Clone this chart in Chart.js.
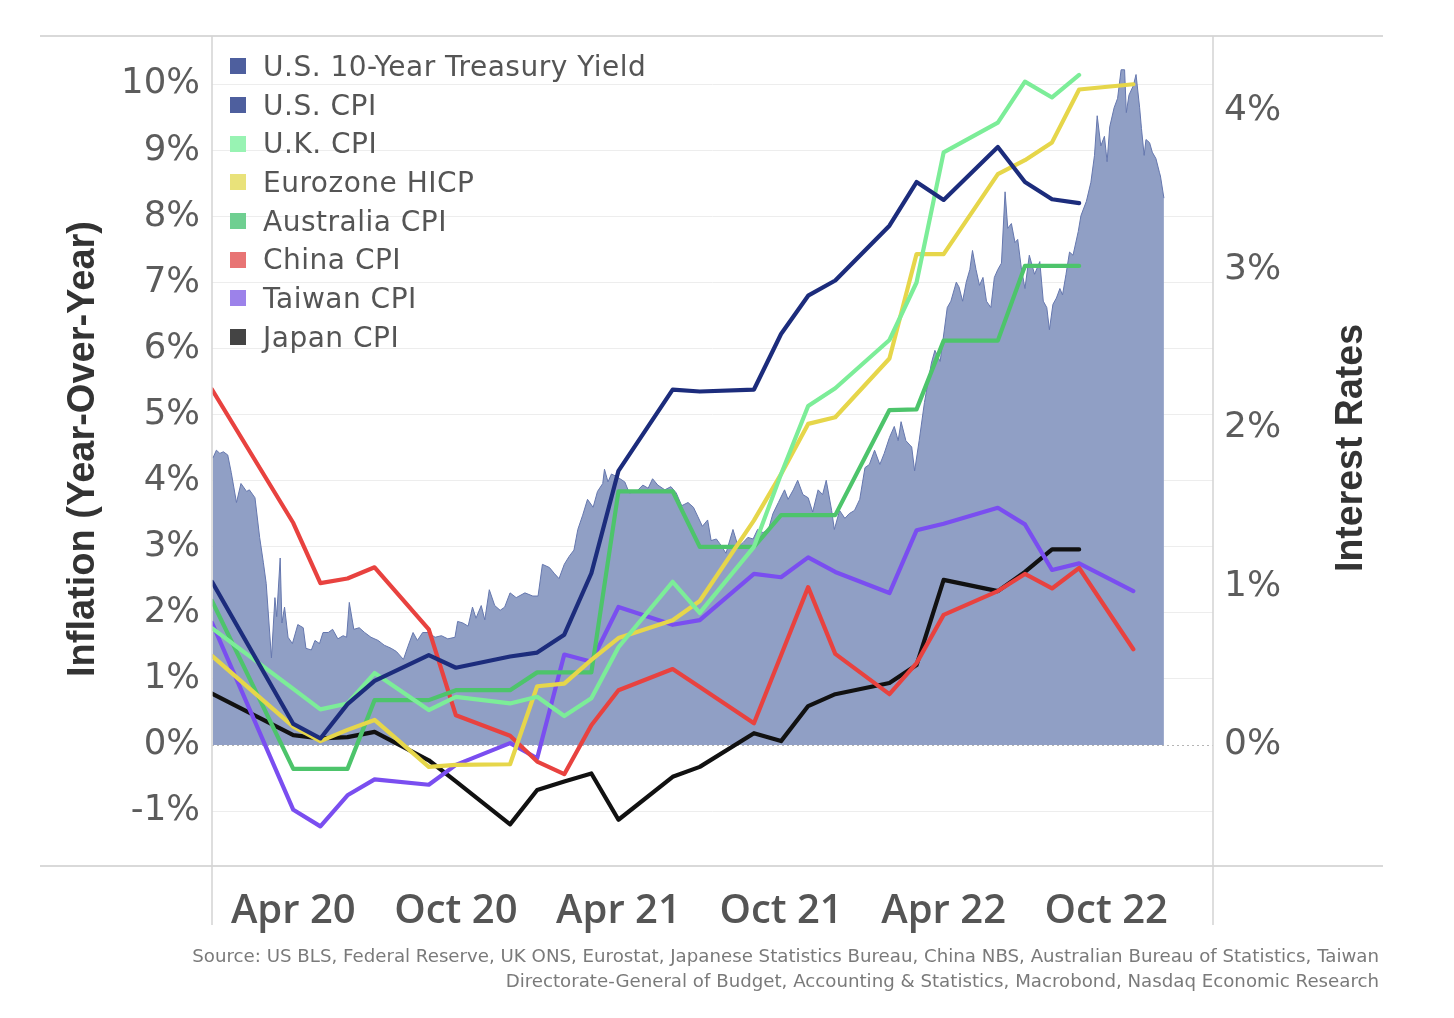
<!DOCTYPE html>
<html><head><meta charset="utf-8">
<script src="https://cdn.jsdelivr.net/npm/chart.js@4.4.1/dist/chart.umd.min.js"></script>
<style>
html,body{margin:0;padding:0;background:#fff;width:1454px;height:1018px;overflow:hidden;}
#wrap{position:relative;width:1454px;height:1018px;}
#c{position:absolute;left:0;top:0;}
#legend{position:absolute;left:230px;top:47px;font-family:"DejaVu Sans";font-size:28px;letter-spacing:0.5px;color:#555;}
.item{display:flex;align-items:center;height:38.7px;white-space:nowrap;}
.sw{width:16px;height:16px;margin-right:17px;flex:none;}
#source{position:absolute;right:75px;top:943px;text-align:right;font-family:"DejaVu Sans";font-size:18.2px;color:#7a7a7a;line-height:25px;white-space:nowrap;}
</style></head>
<body><div id="wrap"><canvas id="c" width="1454" height="1018"></canvas><div id="legend"></div>
<div id="source">Source: US BLS, Federal Reserve, UK ONS, Eurostat, Japanese Statistics Bureau, China NBS, Australian Bureau of Statistics, Taiwan<br>Directorate-General of Budget, Accounting &amp; Statistics, Macrobond, Nasdaq Economic Research</div></div>
<script>
// ---------- DATA ----------
const cpiMonths = ["2020-01","2020-04","2020-05","2020-06","2020-07","2020-09","2020-10","2020-12","2021-01","2021-02","2021-03","2021-04","2021-06","2021-07","2021-09","2021-10","2021-11","2021-12","2022-02","2022-03","2022-04","2022-06","2022-07","2022-08","2022-09","2022-11"];
const usCpi     = [2.47,0.32,0.10,0.62,0.97,1.36,1.17,1.34,1.40,1.67,2.60,4.15,5.38,5.35,5.38,6.22,6.80,7.03,7.86,8.52,8.25,9.05,8.52,8.26,8.20,null];
const ukCpi     = [1.77,0.85,0.54,0.63,1.09,0.53,0.73,0.63,0.73,0.44,0.71,1.48,2.47,2.00,3.00,4.10,5.13,5.40,6.13,7.00,8.97,9.42,10.04,9.80,10.14,null];
const euroHicp  = [1.35,0.28,0.06,0.23,0.38,-0.33,-0.30,-0.29,0.89,0.93,1.29,1.62,1.89,2.18,3.40,4.10,4.86,4.96,5.85,7.43,7.43,8.64,8.85,9.12,9.92,10.00];
const ausCpi    = [2.18,-0.36,-0.36,-0.36,0.68,0.68,0.83,0.83,1.10,1.10,1.10,3.84,3.84,3.00,3.00,3.48,3.48,3.48,5.07,5.08,6.12,6.12,7.25,7.25,7.25,null];
const chinaCpi  = [5.38,3.36,2.45,2.52,2.69,1.75,0.45,0.14,-0.25,-0.44,0.30,0.83,1.15,0.88,0.33,1.36,2.39,1.38,0.77,1.24,1.97,2.33,2.59,2.37,2.68,1.45];
const taiwanCpi = [1.85,-0.98,-1.23,-0.76,-0.52,-0.60,-0.30,0.03,-0.20,1.37,1.26,2.09,1.82,1.89,2.59,2.54,2.84,2.62,2.30,3.25,3.35,3.59,3.34,2.65,2.75,2.33];
const japanCpi  = [0.78,0.15,0.10,0.12,0.20,-0.23,-0.55,-1.20,-0.68,-0.55,-0.43,-1.13,-0.48,-0.33,0.18,0.06,0.59,0.77,0.94,1.21,2.50,2.33,2.62,2.96,2.96,null];

const yieldDates = ["2020-01-02","2020-01-06","2020-01-10","2020-01-14","2020-01-19","2020-01-23","2020-01-29","2020-02-03","2020-02-09","2020-02-12","2020-02-18","2020-02-23","2020-02-27","2020-03-01","2020-03-07","2020-03-11","2020-03-13","2020-03-17","2020-03-19","2020-03-22","2020-03-26","2020-03-31","2020-04-06","2020-04-12","2020-04-15","2020-04-21","2020-04-25","2020-04-30","2020-05-04","2020-05-10","2020-05-15","2020-05-21","2020-05-27","2020-05-31","2020-06-03","2020-06-08","2020-06-14","2020-06-20","2020-06-27","2020-07-05","2020-07-12","2020-07-20","2020-07-26","2020-08-03","2020-08-08","2020-08-14","2020-08-19","2020-08-25","2020-08-31","2020-09-08","2020-09-15","2020-09-22","2020-09-30","2020-10-03","2020-10-09","2020-10-15","2020-10-20","2020-10-24","2020-10-30","2020-11-03","2020-11-08","2020-11-14","2020-11-20","2020-11-25","2020-12-01","2020-12-08","2020-12-18","2020-12-27","2021-01-02","2021-01-07","2021-01-15","2021-01-21","2021-01-26","2021-02-01","2021-02-06","2021-02-11","2021-02-15","2021-02-20","2021-02-25","2021-03-03","2021-03-08","2021-03-14","2021-03-16","2021-03-20","2021-03-24","2021-03-31","2021-04-08","2021-04-13","2021-04-21","2021-04-28","2021-05-04","2021-05-09","2021-05-15","2021-05-23","2021-05-30","2021-06-05","2021-06-11","2021-06-18","2021-06-24","2021-06-29","2021-07-04","2021-07-10","2021-07-14","2021-07-20","2021-07-24","2021-07-31","2021-08-08","2021-08-14","2021-08-20","2021-08-25","2021-08-31","2021-09-05","2021-09-11","2021-09-17","2021-09-22","2021-09-28","2021-10-05","2021-10-09","2021-10-15","2021-10-20","2021-10-26","2021-11-01","2021-11-06","2021-11-12","2021-11-17","2021-11-21","2021-11-27","2021-11-30","2021-12-06","2021-12-12","2021-12-17","2021-12-23","2021-12-29","2022-01-04","2022-01-09","2022-01-15","2022-01-21","2022-01-26","2022-02-01","2022-02-06","2022-02-10","2022-02-13","2022-02-18","2022-02-24","2022-02-27","2022-03-04","2022-03-10","2022-03-18","2022-03-22","2022-03-28","2022-04-05","2022-04-09","2022-04-15","2022-04-18","2022-04-22","2022-04-26","2022-04-30","2022-05-03","2022-05-07","2022-05-11","2022-05-15","2022-05-19","2022-05-24","2022-05-28","2022-06-01","2022-06-05","2022-06-09","2022-06-12","2022-06-16","2022-06-20","2022-06-23","2022-06-27","2022-07-01","2022-07-06","2022-07-12","2022-07-18","2022-07-22","2022-07-26","2022-07-29","2022-08-02","2022-08-06","2022-08-10","2022-08-13","2022-08-17","2022-08-21","2022-08-25","2022-08-31","2022-09-03","2022-09-09","2022-09-14","2022-09-18","2022-09-21","2022-09-25","2022-09-29","2022-10-02","2022-10-05","2022-10-10","2022-10-14","2022-10-18","2022-10-22","2022-10-24","2022-10-27","2022-11-01","2022-11-04","2022-11-08","2022-11-10","2022-11-13","2022-11-15","2022-11-19","2022-11-22","2022-11-26","2022-11-30","2022-12-01","2022-12-05"];
const yieldValues = [1.81,1.86,1.84,1.85,1.83,1.72,1.53,1.65,1.60,1.61,1.56,1.31,1.15,1.02,0.55,0.93,0.81,1.18,0.77,0.87,0.68,0.64,0.76,0.74,0.61,0.60,0.66,0.64,0.71,0.71,0.73,0.67,0.69,0.68,0.90,0.73,0.74,0.71,0.68,0.66,0.63,0.61,0.59,0.54,0.62,0.71,0.66,0.71,0.71,0.68,0.69,0.67,0.68,0.78,0.77,0.75,0.87,0.80,0.88,0.79,0.98,0.88,0.85,0.87,0.96,0.93,0.96,0.94,0.94,1.14,1.12,1.08,1.05,1.14,1.19,1.23,1.36,1.45,1.55,1.50,1.60,1.65,1.74,1.66,1.71,1.69,1.66,1.59,1.60,1.64,1.62,1.68,1.64,1.61,1.63,1.59,1.51,1.53,1.50,1.44,1.38,1.42,1.29,1.30,1.27,1.21,1.36,1.25,1.28,1.31,1.30,1.36,1.34,1.36,1.46,1.53,1.61,1.55,1.61,1.67,1.58,1.56,1.47,1.61,1.58,1.67,1.48,1.36,1.48,1.43,1.46,1.48,1.55,1.75,1.77,1.86,1.77,1.84,1.94,2.01,1.92,2.04,1.92,1.88,1.73,1.92,2.16,2.41,2.49,2.42,2.76,2.80,2.92,2.89,2.80,2.92,3.00,3.12,3.00,2.90,2.95,2.80,2.76,2.95,3.00,3.04,3.49,3.26,3.29,3.17,3.19,3.01,2.88,3.09,2.97,3.05,2.80,2.76,2.62,2.78,2.82,2.88,2.84,2.97,3.11,3.09,3.24,3.34,3.43,3.55,3.72,3.97,3.78,3.84,3.68,3.90,4.02,4.08,4.26,4.26,3.99,4.10,4.16,4.23,4.02,3.89,3.72,3.82,3.80,3.74,3.70,3.61,3.59,3.45];

const xTickMonths = ["2020-04","2020-10","2021-04","2021-10","2022-04","2022-10"];
const xTickLabels = ["Apr 20","Oct 20","Apr 21","Oct 21","Apr 22","Oct 22"];
const leftTicks  = [-1,0,1,2,3,4,5,6,7,8,9,10];
const rightTicks = [0,1,2,3,4];

// ---------- helpers ----------
function monthIndex(s){
  const p = s.split('-').map(Number);
  const y = p[0], m = p[1], d = p[2] || 1;
  const dim = new Date(y, m, 0).getDate();
  return (y-2020)*12 + (m-1) + (d-1)/dim;
}
function cpiPoints(vals){
  const out = [];
  vals.forEach((v,i)=>{ if(v!==null) out.push({x:monthIndex(cpiMonths[i]), y:v}); });
  return out;
}
const yieldPts = yieldDates.map((d,i)=>({x:monthIndex(d), y:yieldValues[i]}));

const series = [
  {label:'U.S. CPI', data:usCpi, color:'#1c2c7c', sw:'#4e5f9e'},
  {label:'U.K. CPI', data:ukCpi, color:'#7ced98', sw:'#98f3b3'},
  {label:'Eurozone HICP', data:euroHicp, color:'#e6d64a', sw:'#e9e27a'},
  {label:'Australia CPI', data:ausCpi, color:'#4dc46b', sw:'#6fcf91'},
  {label:'China CPI', data:chinaCpi, color:'#e8423f', sw:'#e87474'},
  {label:'Taiwan CPI', data:taiwanCpi, color:'#7a4ef0', sw:'#9c82ea'},
  {label:'Japan CPI', data:japanCpi, color:'#111111', sw:'#444444'}
];

const datasets = series.map((s,i)=>({
  label:s.label, data:cpiPoints(s.data), yAxisID:'y', borderColor:s.color, backgroundColor:s.color,
  borderWidth:4.2, pointRadius:0, tension:0, fill:false, order:i+1,
  borderJoinStyle:'round', borderCapStyle:'round'
}));
datasets.push({
  label:'U.S. 10-Year Treasury Yield', data:yieldPts, yAxisID:'y2',
  borderColor:'#6577ae', borderWidth:1, backgroundColor:'#909fc5', fill:'origin',
  pointRadius:0, tension:0, order:100
});

// legend
const legendItems = [{label:'U.S. 10-Year Treasury Yield', sw:'#4e5f9e'}].concat(series.map(s=>({label:s.label, sw:s.sw})));
const lg = document.getElementById('legend');
legendItems.forEach(it=>{
  const d = document.createElement('div'); d.className='item';
  d.innerHTML = '<span class="sw" style="background:'+it.sw+'"></span><span>'+it.label+'</span>';
  lg.appendChild(d);
});

function drawRotTitle(ctx, text, baseX, cy, len){
  ctx.save();
  ctx.font = 'bold 39px "Liberation Sans", Arial, sans-serif';
  const w = ctx.measureText(text).width;
  ctx.translate(baseX, cy); ctx.rotate(-Math.PI/2); ctx.scale(len/w, 1);
  ctx.textAlign='center'; ctx.textBaseline='alphabetic'; ctx.fillStyle='#333';
  ctx.fillText(text, 0, 0);
  ctx.restore();
}

const deco = {
  id:'deco',
  beforeDatasetsDraw(chart){
    const {ctx, chartArea:a, scales} = chart;
    const y0 = Math.round(scales.y.getPixelForValue(0))+0.5;
    ctx.save(); ctx.strokeStyle='#b5b5b5'; ctx.lineWidth=1; ctx.setLineDash([2,3]);
    ctx.beginPath(); ctx.moveTo(a.left,y0); ctx.lineTo(a.right,y0); ctx.stroke(); ctx.restore();
  },
  afterDraw(chart){
    const {ctx, chartArea:a} = chart;
    ctx.save();
    ctx.strokeStyle='#d9d9d9'; ctx.lineWidth=2;
    ctx.beginPath();
    ctx.moveTo(40,a.top); ctx.lineTo(1383,a.top);
    ctx.moveTo(40,a.bottom); ctx.lineTo(1383,a.bottom);
    ctx.stroke();
    ctx.strokeStyle='#d4d4d4'; ctx.lineWidth=1.5;
    ctx.beginPath();
    ctx.moveTo(a.left,a.top); ctx.lineTo(a.left,925);
    ctx.moveTo(a.right,a.top); ctx.lineTo(a.right,925);
    ctx.stroke();
    ctx.restore();
    const cy = (a.top+a.bottom)/2;
    drawRotTitle(ctx, 'Inflation (Year-Over-Year)', 94, cy-2, 456);
    drawRotTitle(ctx, 'Interest Rates', 1362, cy-3, 248);
  }
};

new Chart(document.getElementById('c'), {
  type:'line',
  data:{datasets},
  options:{
    responsive:false, animation:false, devicePixelRatio:1,
    layout:{padding:{top:36,left:0,right:0,bottom:0}},
    plugins:{legend:{display:false}, tooltip:{enabled:false}},
    scales:{
      x:{type:'linear', position:'bottom', min:0, max:36.94,
        grid:{display:false}, border:{display:false},
        afterBuildTicks(s){ s.ticks = xTickMonths.map(m=>({value:monthIndex(m)})); },
        afterFit(s){ s.height = 152; },
        ticks:{autoSkip:false, maxRotation:0, padding:14, color:'#555',
          font:{family:'"Open Sans"', size:40, weight:'600'},
          callback(v){ const i = xTickMonths.findIndex(m=>Math.abs(monthIndex(m)-v)<1e-6); return i>=0 ? xTickLabels[i] : ''; }}
      },
      y:{type:'linear', position:'left', min:-1.83, max:10.73,
        afterBuildTicks(s){ s.ticks = leftTicks.map(v=>({value:v})); },
        afterFit(s){ s.width = 212; },
        grid:{color:(c)=> c.tick && c.tick.value===0 ? 'rgba(0,0,0,0)' : '#ededed', drawTicks:false, lineWidth:1},
        border:{display:false},
        ticks:{padding:12, color:'#5c5c5c', font:{family:'"DejaVu Sans"', size:35.5}, callback:(v)=>v+'%'}
      },
      y2:{type:'linear', position:'right', min:-0.763, max:4.473,
        afterBuildTicks(s){ s.ticks = rightTicks.map(v=>({value:v})); },
        afterFit(s){ s.width = 241; },
        grid:{display:false, drawTicks:false}, border:{display:false},
        ticks:{padding:11, color:'#5c5c5c', font:{family:'"DejaVu Sans"', size:36}, callback:(v)=>v+'%'}
      }
    }
  },
  plugins:[deco]
});
</script></body></html>
